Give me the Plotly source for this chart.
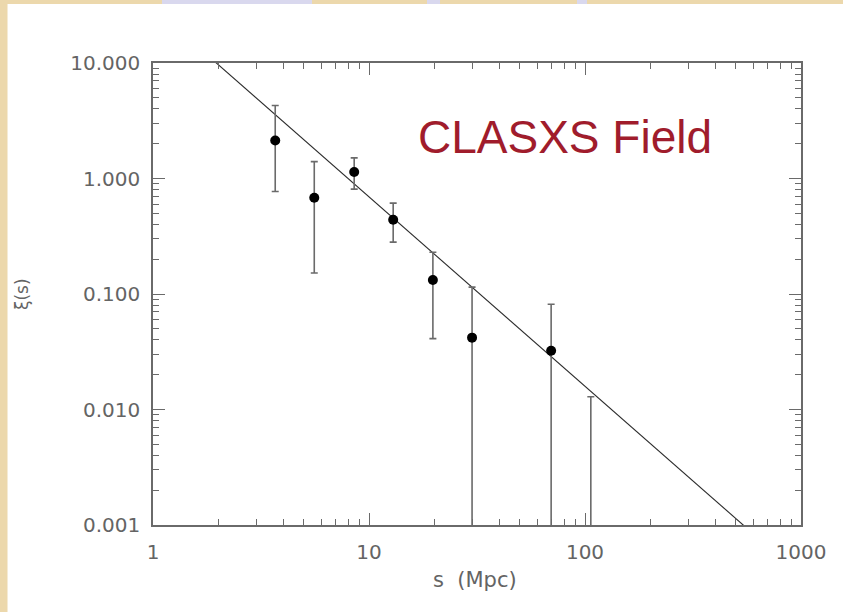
import plotly.graph_objects as go

# Redshift-space correlation function, CLASXS field
s_mpc = [3.68, 5.58, 8.54, 12.94, 19.76, 30.0, 69.7]
xi = [2.13, 0.681, 1.137, 0.439, 0.132, 0.0419, 0.0323]
xi_upper = [4.29, 1.40, 1.51, 0.612, 0.230, 0.1146, 0.0816]
xi_lower = [0.771, 0.152, 0.809, 0.281, 0.0411, 0.0, 0.0]

# Bin with only an upper bound (central value not positive)
s_limit = [106.4]
xi_limit = [0.0129]

# Power-law fit xi(s) = (s / s0) ** -gamma
s0_fit = 8.0
gamma_fit = 1.64
fit_s = [1.0, 1000.0]
fit_xi = [(s / s0_fit) ** -gamma_fit for s in fit_s]

y_tickvals = [0.001, 0.01, 0.1, 1, 10]
y_ticktext = ["0.001", "0.010", "0.100", "1.000", "10.000"]
x_tickvals = [1, 10, 100, 1000]
x_ticktext = ["1", "10", "100", "1000"]

W, H = 843, 612
ML, MR, MT, MB = 153, 42, 63, 87
PW, PH = W - ML - MR, H - MT - MB

AXIS = "#6a6a6a"
LABEL = "#646464"
FONT = "DejaVu Sans"
PARCHMENT = "#ecd8ac"
LAVENDER = "#d9d8ee"

fig = go.Figure()

fig.add_trace(go.Scatter(
    x=fit_s, y=fit_xi, mode="lines",
    line=dict(color="#2a2a2a", width=1.1),
    hoverinfo="skip", showlegend=False,
))

fig.add_trace(go.Scatter(
    x=s_mpc, y=xi, mode="markers",
    marker=dict(color="black", size=10),
    error_y=dict(
        type="data", symmetric=False,
        array=[u - v for u, v in zip(xi_upper, xi)],
        arrayminus=[v - l for v, l in zip(xi, xi_lower)],
        color="#6a6a6a", thickness=1.6, width=3.5,
    ),
    showlegend=False,
))

fig.add_trace(go.Scatter(
    x=s_limit, y=xi_limit, mode="markers",
    marker=dict(size=1, opacity=0),
    error_y=dict(
        type="data", symmetric=False,
        array=[0.0 for _ in xi_limit],
        arrayminus=xi_limit,
        color="#6a6a6a", thickness=1.6, width=3.5,
    ),
    showlegend=False,
))

common = dict(
    type="log", showgrid=False, zeroline=False,
    showline=True, linecolor=AXIS, linewidth=1.5, mirror="ticks",
    ticks="inside", ticklen=12, tickwidth=1.3, tickcolor=AXIS,
    tickfont=dict(family=FONT, size=20, color=LABEL),
    minor=dict(ticks="inside", ticklen=6, tickwidth=1.1, tickcolor=AXIS,
               dtick="D1", showgrid=False),
)

fig.update_xaxes(range=[0, 3], tickvals=x_tickvals, ticktext=x_ticktext,
                 ticklabelstandoff=8, **common)
fig.update_yaxes(range=[-3, 1], tickvals=y_tickvals, ticktext=y_ticktext,
                 ticklabelstandoff=7, **common)

# Slide background strips
px = lambda v: (v - ML) / PW
py = lambda v: (H - MB - v) / PH
shapes = [
    dict(type="rect", xref="paper", yref="paper", layer="below",
         x0=px(0), x1=px(7.5), y0=py(H), y1=py(0),
         fillcolor=PARCHMENT, line=dict(width=0)),
    dict(type="rect", xref="paper", yref="paper", layer="below",
         x0=px(0), x1=px(W), y0=py(4), y1=py(0),
         fillcolor=PARCHMENT, line=dict(width=0)),
    dict(type="rect", xref="paper", yref="paper", layer="below",
         x0=px(162), x1=px(312), y0=py(4), y1=py(0),
         fillcolor=LAVENDER, line=dict(width=0)),
    dict(type="rect", xref="paper", yref="paper", layer="below",
         x0=px(427), x1=px(440), y0=py(4), y1=py(0),
         fillcolor=LAVENDER, line=dict(width=0)),
    dict(type="rect", xref="paper", yref="paper", layer="below",
         x0=px(577), x1=px(587), y0=py(4), y1=py(0),
         fillcolor=LAVENDER, line=dict(width=0)),
]

annotations = [
    dict(text="CLASXS Field", xref="paper", yref="paper",
         x=px(564.5), y=py(137), xanchor="center", yanchor="middle",
         showarrow=False,
         font=dict(family="Liberation Sans", size=46, color="#a01c2c")),
    dict(text="s  (Mpc)", xref="paper", yref="paper",
         x=px(475), y=py(580), xanchor="center", yanchor="middle",
         showarrow=False, font=dict(family=FONT, size=21, color=LABEL)),
    dict(text="ξ(s)", xref="paper", yref="paper", textangle=-90,
         x=px(22), y=py(294), xanchor="center", yanchor="middle",
         showarrow=False, font=dict(family=FONT, size=17, color=LABEL)),
]

fig.update_layout(
    width=W, height=H,
    margin=dict(l=ML, r=MR, t=MT, b=MB, autoexpand=False),
    paper_bgcolor="white", plot_bgcolor="white",
    shapes=shapes, annotations=annotations,
)

fig.write_html("out.html")
